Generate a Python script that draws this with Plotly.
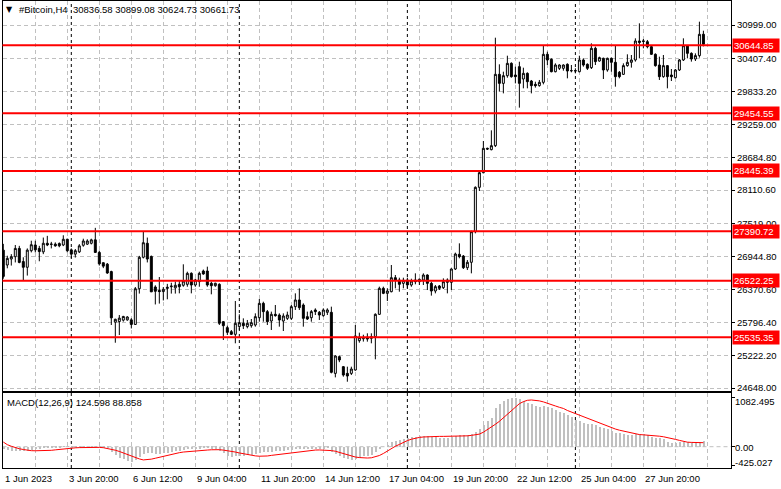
import plotly.graph_objects as go
import pandas as pd

# ---------------- data ----------------
symbol = "#Bitcoin,H4"
header_ohlc = "30836.58 30899.08 30624.73 30661.73"
macd_title = "MACD(12,26,9) 124.598 88.858"
start_time = "2023-06-01 04:00"
bar_hours = 4

open_ = [27060, 26800, 26905, 26945, 27090, 26860, 26760, 27050, 27150, 27090,
         27030, 27180, 27160, 27165, 27175, 27150, 27250, 27065, 26990, 27030,
         27145, 27165, 27180, 27240, 27020, 26840, 26815, 26685, 25800, 25810,
         25835, 25840, 25840, 25760, 26385, 26935, 27180, 26950, 26415, 26355,
         26335, 26390, 26420, 26400, 26462, 26445, 26462, 26654, 26450, 26509,
         26695, 26695, 26480, 26438, 26462, 25808, 25704, 25634, 25587, 25722,
         25780, 25722, 25738, 25750, 25878, 26129, 25984, 25820, 25937, 25925,
         25820, 25867, 25867, 26071, 26188, 26100, 25896, 25878, 26013, 25972,
         25914, 25972, 25972, 24904, 25196, 25021, 24904, 24904, 24963, 25476,
         25510, 25535, 25517, 25546, 25937, 26392, 26304, 26333, 26578, 26537,
         26479, 26537, 26450, 26537, 26508, 26537, 26625, 26479, 26345, 26432,
         26403, 26537, 26497, 26730, 26987, 26957, 26753, 26847, 27383, 28159,
         28415, 28841, 28818, 28888, 30136, 29978, 30112, 30328, 30124, 30270,
         30054, 30153, 30019, 29961, 29938, 29996, 30486, 30398, 30182, 30241,
         30241, 30311, 30200, 30194, 30182, 30387, 30311, 30253, 30591, 30369,
         30416, 30212, 30416, 30346, 30171, 30136, 30288, 30346, 30387, 30719,
         30710, 30707, 30620, 30486, 30299, 30095, 30288, 30124, 30077, 30212,
         30387, 30637, 30503, 30404, 30463, 30836.58]
high = [27170, 26962, 26990, 27150, 27135, 26935, 27090, 27225, 27225, 27135,
        27280, 27310, 27205, 27195, 27195, 27320, 27260, 27090, 27080, 27165,
        27260, 27250, 27260, 27450, 27050, 26845, 26835, 26700, 25860, 25925,
        25910, 25905, 25870, 26415, 26960, 27390, 27280, 26965, 26445, 26590,
        26415, 26470, 26490, 26510, 26520, 26812, 26683, 26672, 26560, 26683,
        26720, 26771, 26508, 26490, 26480, 25820, 25738, 25663, 26170, 25937,
        25867, 25838, 25855, 25954, 26205, 26158, 26013, 25984, 26100, 25954,
        25954, 25984, 26100, 26304, 26392, 26129, 25984, 26013, 26042, 25995,
        26042, 26042, 26071, 25220, 25214, 25033, 25021, 25021, 25750, 25616,
        25580, 25605, 25605, 25954, 26421, 26421, 26392, 26800, 26625, 26578,
        26578, 26578, 26560, 26654, 26566, 26654, 26637, 26508, 26450, 26450,
        26566, 26566, 26742, 27016, 27179, 26975, 26887, 27400, 28175, 28433,
        28969, 28853, 29156, 30777, 30311, 30182, 30462, 30346, 30270, 30357,
        30252, 30171, 30037, 30007, 30037, 30637, 30532, 30416, 30328, 30311,
        30311, 30328, 30299, 30241, 30462, 30416, 30328, 30678, 30620, 30445,
        30428, 30428, 30428, 30637, 30194, 30328, 30486, 30474, 30766, 31028,
        30754, 30737, 30637, 30503, 30445, 30474, 30299, 30229, 30229, 30404,
        30766, 30649, 30521, 30503, 31057, 30899.08]
low = [26560, 26742, 26790, 26845, 26830, 26530, 26615, 27020, 27020, 26865,
       26990, 27130, 27090, 27120, 27110, 27130, 27020, 26920, 26930, 27010,
       27120, 27150, 27160, 27010, 26790, 26745, 26645, 25750, 25440, 25575,
       25810, 25825, 25690, 25750, 26300, 26915, 26845, 26330, 26110, 26125,
       26180, 26200, 26300, 26300, 26304, 26420, 26420, 26304, 26420, 26420,
       26630, 26420, 26287, 26420, 25750, 25488, 25575, 25575, 25430, 25663,
       25680, 25692, 25703, 25721, 25808, 25808, 25750, 25663, 25896, 25721,
       25645, 25838, 25838, 26013, 26013, 25721, 25838, 25808, 25925, 25838,
       25896, 25925, 24904, 24834, 25100, 24846, 24758, 24875, 24951, 25441,
       25460, 25459, 25430, 25150, 25925, 26290, 26170, 26322, 26392, 26333,
       26392, 26392, 26420, 26462, 26450, 26450, 26362, 26264, 26304, 26362,
       26380, 26304, 26362, 26712, 26917, 26730, 26712, 26654, 27354, 28095,
       28404, 28812, 28806, 28864, 29833, 29803, 30077, 30077, 29978, 29553,
       29891, 29891, 29803, 29903, 29920, 29961, 30299, 30171, 30171, 30212,
       30200, 30066, 30171, 30153, 30171, 30270, 30212, 30229, 30299, 30357,
       30054, 30182, 30182, 29920, 30066, 30124, 30270, 30253, 30358, 30416,
       30591, 30591, 30474, 30270, 30037, 30077, 29891, 30019, 30066, 30194,
       30369, 30416, 30358, 30369, 30428, 30624.73]
close = [26600, 26916, 26945, 27090, 26845, 26760, 27060, 27155, 27065, 27035,
         27180, 27150, 27165, 27135, 27135, 27250, 27050, 26990, 27050, 27135,
         27220, 27220, 27240, 27020, 26820, 26780, 26660, 25875, 25850, 25870,
         25900, 25890, 25760, 26385, 26935, 27190, 26905, 26330, 26340, 26335,
         26375, 26410, 26430, 26445, 26420, 26520, 26654, 26450, 26537, 26654,
         26643, 26450, 26438, 26480, 25780, 25738, 25622, 25587, 25780, 25791,
         25738, 25780, 25791, 25896, 26129, 25984, 25808, 25937, 25914, 25838,
         25908, 25925, 26071, 26188, 26054, 25867, 25855, 25984, 25984, 25925,
         26013, 26013, 24922, 25208, 25138, 24875, 24858, 24980, 25558, 25534,
         25530, 25505, 25546, 25937, 26392, 26304, 26345, 26578, 26537, 26462,
         26532, 26450, 26520, 26508, 26549, 26625, 26479, 26345, 26421, 26392,
         26508, 26497, 26730, 26992, 26946, 26753, 26847, 27383, 28159, 28415,
         28841, 28829, 28888, 30136, 29978, 30112, 30328, 30095, 30095, 29978,
         30153, 30007, 29938, 29938, 29996, 30486, 30387, 30182, 30299, 30299,
         30299, 30194, 30200, 30200, 30387, 30299, 30241, 30591, 30358, 30428,
         30212, 30416, 30346, 30095, 30095, 30288, 30346, 30387, 30719, 30695,
         30719, 30620, 30486, 30288, 30095, 30288, 30095, 30095, 30212, 30387,
         30637, 30503, 30404, 30463, 30836, 30661.73]

macd_hist = [-60, -75, -85, -95, -100, -95, -85, -70, -55, -45,
             -35, -25, -20, -15, -10, -5, -5, -10, -12, -8,
             -5, 0, 5, 8, 2, -15, -35, -120, -190, -240,
             -280, -310, -340, -300, -230, -160, -130, -150, -160, -155,
             -145, -130, -115, -100, -90, -75, -60, -55, -50, -40,
             -30, -35, -40, -40, -100, -150, -195, -220, -215, -205,
             -200, -190, -180, -165, -135, -120, -120, -110, -100, -95,
             -90, -80, -65, -45, -40, -50, -55, -50, -45, -45,
             -40, -35, -110, -170, -210, -250, -280, -300, -270, -240,
             -215, -195, -175, -120, -50, 0, 40, 95, 130, 155,
             180, 200, 215, 225, 230, 240, 235, 220, 210, 200,
             200, 195, 210, 240, 255, 250, 250, 270, 330, 400,
             480, 560, 640, 846, 935, 1008, 1052, 1082.495, 1075, 1052,
             1008, 971, 935, 905, 883, 890, 880, 846, 810, 773,
             736, 699, 662, 600, 560, 530, 508, 500, 478, 442,
             420, 383, 346, 309, 294, 272, 258, 258, 270, 278,
             272, 258, 221, 199, 184, 162, 110, 74, 74, 96,
             110, 110, 96, 96, 110, 124.598]
macd_signal = [103, 45, 10, -20, -45, -62, -80, -88, -90, -90,
               -88, -86, -80, -70, -58, -48, -40, -32, -25, -20,
               -16, -14, -13, -13, -15, -22, -38, -55, -78, -105,
               -140, -175, -205, -240, -270, -292, -290, -275, -255, -232,
               -208, -185, -165, -148, -132, -118, -108, -100, -94, -88,
               -80, -74, -68, -64, -66, -75, -85, -100, -118, -138,
               -158, -175, -190, -203, -210, -213, -205, -192, -180, -170,
               -162, -150, -138, -125, -115, -102, -90, -80, -74, -72,
               -74, -78, -86, -100, -125, -160, -185, -208, -228, -240,
               -248, -250, -245, -225, -195, -150, -95, -40, 10, 50,
               95, 135, 165, 190, 205, 215, 222, 226, 228, 228,
               228, 228, 226, 226, 228, 232, 240, 250, 262, 278,
               320, 375, 430, 495, 560, 635, 720, 800, 880, 950,
               995, 1025, 1032, 1030, 1012, 990, 955, 925, 900, 870,
               845, 800, 765, 735, 705, 665, 630, 595, 570, 530,
               490, 450, 420, 390, 365, 345, 320, 295, 275, 268,
               262, 258, 250, 240, 232, 220, 205, 185, 162, 140,
               118, 100, 95, 92, 90, 88.858]

level_values = [30644.85, 29454.55, 28445.39, 27390.72, 26522.25, 25535.35]
level_labels = ["30644.85", "29454.55", "28445.39", "27390.72", "26522.25", "25535.35"]
price_ticks = [24648.00, 25222.20, 25796.40, 26370.60, 26944.80, 27519.00,
               28110.60, 28684.80, 29259.00, 29833.20, 30407.40, 30999.00]
price_tick_labels = ["24648.00", "25222.20", "25796.40", "26370.60", "26944.80", "27519.00",
                     "28110.60", "28684.80", "29259.00", "29833.20", "30407.40", "30999.00"]
time_label_bars = [0, 16, 32, 48, 64, 80, 96, 112, 128, 144, 160]
time_labels = ["1 Jun 2023", "3 Jun 20:00", "6 Jun 12:00", "9 Jun 04:00", "11 Jun 20:00",
               "14 Jun 12:00", "17 Jun 04:00", "19 Jun 20:00", "22 Jun 12:00",
               "25 Jun 04:00", "27 Jun 20:00"]
separator_bars = [17, 59, 101, 143]
macd_axis_values = [1082.495, 0.0, -425.027]
macd_axis_labels = ["1082.495", "0.00", "-425.027"]

# ---------------- geometry ----------------
W, H = 781, 489
FONT = "Liberation Sans"
step = pd.Timedelta(hours=bar_hours)
t0 = pd.Timestamp(start_time)
times = [t0 + i * step for i in range(len(close))]


def tstr(t):
    return t.strftime("%Y-%m-%d %H:%M:%S")


def bar_time(i):
    return tstr(t0 + i * step)


def py(p):
    return 1 - p / H


x_dom = [2.5 / W, 731 / W]
main_dom = [py(391), py(1)]
macd_dom = [py(468), py(393)]
x_range = [tstr(t0 - step * 0.2), tstr(t0 + step * 181.9)]
price_range = [24595.5, 31418.9]
macd_range = [-470.5, 1186.2]
grid_times = [bar_time(i) for i in range(8, 182, 8)]

fig = go.Figure()
fig.add_trace(go.Candlestick(
    x=[tstr(t) for t in times], open=open_, high=high, low=low, close=close,
    increasing=dict(line=dict(color="black", width=1), fillcolor="white"),
    decreasing=dict(line=dict(color="black", width=1), fillcolor="black"),
    xaxis="x", yaxis="y", showlegend=False, hoverinfo="skip"))
fig.add_trace(go.Bar(
    x=[tstr(t) for t in times], y=macd_hist, marker=dict(color="#C0C0C0", line=dict(width=0)),
    width=step.total_seconds() * 1000 * 0.55, xaxis="x2", yaxis="y2", showlegend=False,
    hoverinfo="skip"))
fig.add_trace(go.Scatter(
    x=[tstr(t) for t in times], y=macd_signal, mode="lines",
    line=dict(color="#FF0000", width=1), xaxis="x2", yaxis="y2", showlegend=False,
    hoverinfo="skip"))

shapes = []
for lv in level_values:
    shapes.append(dict(type="line", xref="x domain", x0=0, x1=1, yref="y", y0=lv, y1=lv,
                       line=dict(color="#FF0000", width=2), layer="above"))
for b in separator_bars:
    for yr in ["y domain", "y2 domain"]:
        shapes.append(dict(type="line", xref="x", x0=bar_time(b), x1=bar_time(b), yref=yr,
                           y0=0, y1=1, line=dict(color="black", width=1, dash="3px,3px"),
                           layer="below"))
shapes.append(dict(type="line", xref="x2 domain", x0=0, x1=1, yref="y2", y0=0, y1=0,
                   line=dict(color="#C0C0C0", width=1, dash="4px,3px"), layer="below"))

annotations = []
tf = dict(family=FONT, size=9.5, color="black")
annotations.append(dict(text="▼", x=4 / W, y=py(9.5), xref="paper", yref="paper",
                        xanchor="left", yanchor="middle", showarrow=False,
                        font=dict(family="DejaVu Sans", size=8, color="black")))
annotations.append(dict(text=symbol, x=17 / W, y=py(10), xref="paper", yref="paper",
                        xanchor="left", yanchor="middle", showarrow=False, font=tf))
annotations.append(dict(text=header_ohlc, x=71 / W, y=py(10), xref="paper", yref="paper",
                        xanchor="left", yanchor="middle", showarrow=False, font=tf))
annotations.append(dict(text=macd_title, x=5 / W, y=py(402), xref="paper", yref="paper",
                        xanchor="left", yanchor="middle", showarrow=False, font=tf))
for lv, lab in zip(level_values, level_labels):
    annotations.append(dict(text=lab, x=732 / W, y=lv, xref="paper", yref="y",
                            xanchor="left", yanchor="middle", showarrow=False,
                            font=dict(family=FONT, size=9.5, color="white"),
                            bgcolor="#FF0000", borderpad=1, width=44, height=11,
                            align="left"))
for px_y, lab in zip([401, 447, 462], macd_axis_labels):
    annotations.append(dict(text=lab, x=733 / W, y=py(px_y), xref="paper", yref="paper",
                            xanchor="left", yanchor="middle", showarrow=False, font=tf))
for b, lab in zip(time_label_bars, time_labels):
    annotations.append(dict(text=lab, x=bar_time(b), y=py(478.5), xref="x2", yref="paper",
                            xanchor="left", yanchor="middle", showarrow=False, font=tf))

grid_style = dict(showgrid=True, gridcolor="#C0C0C0", griddash="4px,3px", gridwidth=1)

fig.update_layout(
    width=W, height=H, autosize=False,
    margin=dict(l=0, r=0, t=0, b=0),
    paper_bgcolor="white", plot_bgcolor="white",
    font=dict(family=FONT, size=9.5, color="black"),
    showlegend=False, bargap=0,
    xaxis=dict(domain=x_dom, anchor="y", type="date", range=x_range,
               tickmode="array", tickvals=grid_times, showticklabels=False, ticks="",
               showline=True, linecolor="black", linewidth=1, mirror=True,
               rangeslider=dict(visible=False), zeroline=False, **grid_style),
    yaxis=dict(domain=main_dom, anchor="x", side="right", range=price_range,
               tickmode="array", tickvals=price_ticks, ticktext=price_tick_labels,
               ticks="outside", ticklen=3, tickcolor="black",
               tickfont=dict(family=FONT, size=9.5, color="black"),
               showline=True, linecolor="black", linewidth=1, mirror=True,
               zeroline=False, automargin=False, **grid_style),
    xaxis2=dict(domain=x_dom, anchor="y2", type="date", range=x_range, matches="x",
                tickmode="array", tickvals=grid_times, showticklabels=False, ticks="",
                showline=True, linecolor="black", linewidth=1, mirror=True,
                zeroline=False, **grid_style),
    yaxis2=dict(domain=macd_dom, anchor="x2", side="right", range=macd_range,
                tickmode="array", tickvals=macd_axis_values, ticktext=["", "", ""],
                ticks="outside", ticklen=3, tickcolor="black",
                showline=True, linecolor="black", linewidth=1, mirror=True,
                showgrid=False, zeroline=False, automargin=False),
    shapes=shapes, annotations=annotations,
)

fig.write_html("out.html", config={"displayModeBar": False},
               post_script="document.body.style.margin='0';document.body.style.padding='0';")
